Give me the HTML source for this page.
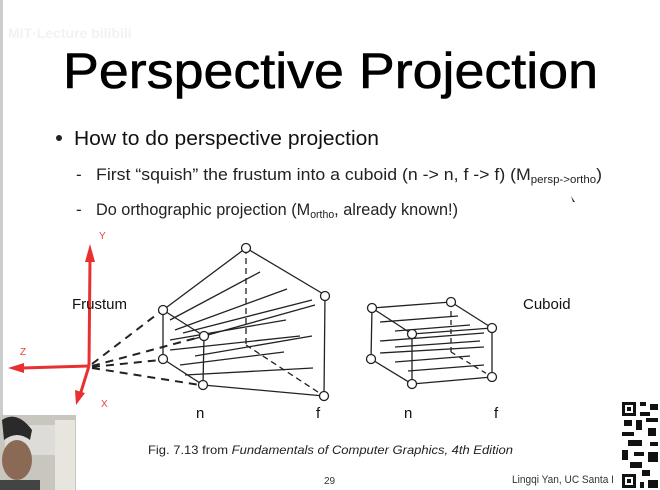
<!DOCTYPE html>
<html><head><meta charset="utf-8"><style>
html,body{margin:0;padding:0;background:#fff;}
svg{display:block;font-family:"Liberation Sans",Arial,sans-serif;}
</style></head><body>
<svg width="660" height="490" viewBox="0 0 660 490" xmlns="http://www.w3.org/2000/svg">
<rect width="660" height="490" fill="#fff"/>
<rect x="0" y="0" width="3" height="490" fill="#ccc"/>
<text x="8" y="38" font-size="14" fill="#f2f2f2" font-weight="bold">MIT·Lecture bilibili</text>
<text x="63" y="88" font-size="50" textLength="535" lengthAdjust="spacingAndGlyphs" fill="#000" stroke="#000" stroke-width="0.6">Perspective Projection</text>
<circle cx="59" cy="138" r="3" fill="#222"/>
<text x="74" y="145" font-size="20" textLength="305" lengthAdjust="spacingAndGlyphs" fill="#111">How to do perspective projection</text>
<text x="76" y="180" font-size="17" fill="#222">-</text>
<text x="96" y="180" font-size="17" fill="#222" textLength="506" lengthAdjust="spacingAndGlyphs">First “squish” the frustum into a cuboid (n -&gt; n, f -&gt; f) (M<tspan font-size="11" dy="3">persp-&gt;ortho</tspan><tspan dy="-3">)</tspan></text>
<text x="76" y="215" font-size="17" fill="#222">-</text>
<text x="96" y="215" font-size="17" fill="#222" textLength="362" lengthAdjust="spacingAndGlyphs">Do orthographic projection (M<tspan font-size="11" dy="3">ortho</tspan><tspan dy="-3">, already known!)</tspan></text>
<path d="M571 196 l4 6 l-2 0z" fill="#333"/>

<!-- axes -->
<g stroke="#e83030" stroke-width="3" fill="#e83030">
<line x1="89" y1="366" x2="90" y2="258"/>
<line x1="89" y1="366" x2="22" y2="368"/>
<line x1="89" y1="366" x2="80" y2="395"/>
</g>
<path d="M90 244 L85 262 L95 262Z M8 368 L24 363 L24 373Z M76 405 L75 390 L85 393Z" fill="#e83030"/>
<g fill="#e84040" font-size="10"><text x="99" y="239">Y</text><text x="20" y="355">Z</text><text x="101" y="407">X</text></g>

<text x="72" y="309" font-size="15" fill="#111">Frustum</text>
<text x="523" y="309" font-size="15" fill="#111">Cuboid</text>

<!-- frustum -->
<g stroke="#222" stroke-width="1.3" fill="none">
<line x1="163" y1="310" x2="246" y2="248"/>
<line x1="246" y1="248" x2="325" y2="295"/>
<line x1="325" y1="295" x2="324" y2="396"/>
<line x1="203" y1="385" x2="324" y2="396"/>
<line x1="163" y1="310" x2="163" y2="359"/>
<line x1="163" y1="310" x2="204" y2="336"/>
<line x1="204" y1="336" x2="203" y2="385"/>
<line x1="163" y1="359" x2="203" y2="385"/>
<line x1="246" y1="248" x2="246" y2="345" stroke-dasharray="6,4"/>
<line x1="246" y1="345" x2="324" y2="396" stroke-dasharray="6,4"/>
<line x1="170" y1="320" x2="260" y2="272"/><line x1="175" y1="330" x2="287" y2="289"/>
<line x1="183" y1="333" x2="312" y2="300"/><line x1="190" y1="340" x2="315" y2="305"/>
<line x1="170" y1="340" x2="286" y2="320"/><line x1="170" y1="350" x2="300" y2="336"/>
<line x1="195" y1="356" x2="312" y2="336"/><line x1="180" y1="365" x2="284" y2="352"/>
<line x1="185" y1="375" x2="313" y2="368"/>
<g stroke-width="2" stroke-dasharray="8,6">
<line x1="92" y1="364" x2="160" y2="312"/>
<line x1="92" y1="366" x2="200" y2="337"/>
<line x1="92" y1="367" x2="160" y2="360"/>
<line x1="92" y1="368" x2="200" y2="385"/>
</g>
</g>
<g fill="#fff" stroke="#222" stroke-width="1.3">
<circle cx="246" cy="248" r="4.5"/><circle cx="325" cy="296" r="4.5"/>
<circle cx="163" cy="310" r="4.5"/><circle cx="204" cy="336" r="4.5"/>
<circle cx="163" cy="359" r="4.5"/><circle cx="203" cy="385" r="4.5"/>
<circle cx="324" cy="396" r="4.5"/>
</g>

<!-- cuboid -->
<g stroke="#222" stroke-width="1.3" fill="none">
<line x1="372" y1="308" x2="451" y2="302"/><line x1="451" y1="302" x2="492" y2="328"/>
<line x1="492" y1="328" x2="492" y2="377"/><line x1="412" y1="384" x2="492" y2="377"/>
<line x1="372" y1="308" x2="371" y2="359"/><line x1="372" y1="308" x2="412" y2="334"/>
<line x1="412" y1="334" x2="492" y2="328"/><line x1="412" y1="334" x2="412" y2="384"/>
<line x1="371" y1="359" x2="412" y2="384"/>
<line x1="451" y1="302" x2="451" y2="352" stroke-dasharray="5,4"/>
<line x1="451" y1="352" x2="492" y2="377" stroke-dasharray="5,4"/>
<line x1="380" y1="322" x2="458" y2="316"/><line x1="395" y1="331" x2="470" y2="325"/>
<line x1="380" y1="341" x2="484" y2="333"/><line x1="395" y1="347" x2="480" y2="341"/>
<line x1="380" y1="353" x2="484" y2="347"/><line x1="395" y1="362" x2="470" y2="356"/>
<line x1="408" y1="371" x2="484" y2="365"/>
</g>
<g fill="#fff" stroke="#222" stroke-width="1.3">
<circle cx="372" cy="308" r="4.5"/><circle cx="451" cy="302" r="4.5"/>
<circle cx="492" cy="328" r="4.5"/><circle cx="412" cy="334" r="4.5"/>
<circle cx="371" cy="359" r="4.5"/><circle cx="412" cy="384" r="4.5"/>
<circle cx="492" cy="377" r="4.5"/>
</g>

<g font-size="15" fill="#111"><text x="196" y="418">n</text><text x="316" y="418">f</text><text x="404" y="418">n</text><text x="494" y="418">f</text></g>
<text x="148" y="454" font-size="12" fill="#222" textLength="365" lengthAdjust="spacingAndGlyphs">Fig. 7.13 from <tspan font-style="italic">Fundamentals of Computer Graphics, 4th Edition</tspan></text>
<text x="324" y="484" font-size="10" fill="#333">29</text>
<text x="512" y="483" font-size="11" fill="#333" textLength="102" lengthAdjust="spacingAndGlyphs">Lingqi Yan, UC Santa I</text>

<!-- QR -->
<rect x="620" y="400" width="40" height="90" fill="#fff"/>
<g fill="#111">
<rect x="622" y="402" width="14" height="14"/><rect x="625" y="405" width="8" height="8" fill="#fff"/><rect x="627" y="407" width="4" height="4"/>
<rect x="622" y="474" width="14" height="14"/><rect x="625" y="477" width="8" height="8" fill="#fff"/><rect x="627" y="479" width="4" height="4"/>
<rect x="640" y="402" width="6" height="4"/><rect x="650" y="404" width="8" height="6"/><rect x="640" y="412" width="10" height="4"/>
<rect x="624" y="420" width="8" height="6"/><rect x="636" y="420" width="6" height="10"/><rect x="646" y="418" width="12" height="4"/>
<rect x="622" y="432" width="12" height="4"/><rect x="648" y="428" width="8" height="8"/><rect x="628" y="440" width="14" height="6"/>
<rect x="650" y="442" width="8" height="4"/><rect x="622" y="450" width="6" height="10"/><rect x="634" y="452" width="10" height="4"/>
<rect x="648" y="452" width="10" height="10"/><rect x="630" y="462" width="12" height="6"/><rect x="642" y="470" width="8" height="6"/>
<rect x="648" y="480" width="10" height="8"/><rect x="640" y="482" width="4" height="6"/>
</g>

<!-- webcam -->
<rect x="0" y="415" width="76" height="75" fill="#c9c6c0"/>
<rect x="5" y="425" width="50" height="30" fill="#dedcd8"/>
<rect x="55" y="420" width="20" height="70" fill="#e8e4de"/>
<ellipse cx="17" cy="460" rx="15" ry="20" fill="#8a6a55"/>
<path d="M2 420 Q17 410 32 430 L30 440 Q17 430 4 440Z" fill="#2a2a2a"/>
<rect x="0" y="480" width="40" height="10" fill="#444"/>
</svg>
</body></html>
